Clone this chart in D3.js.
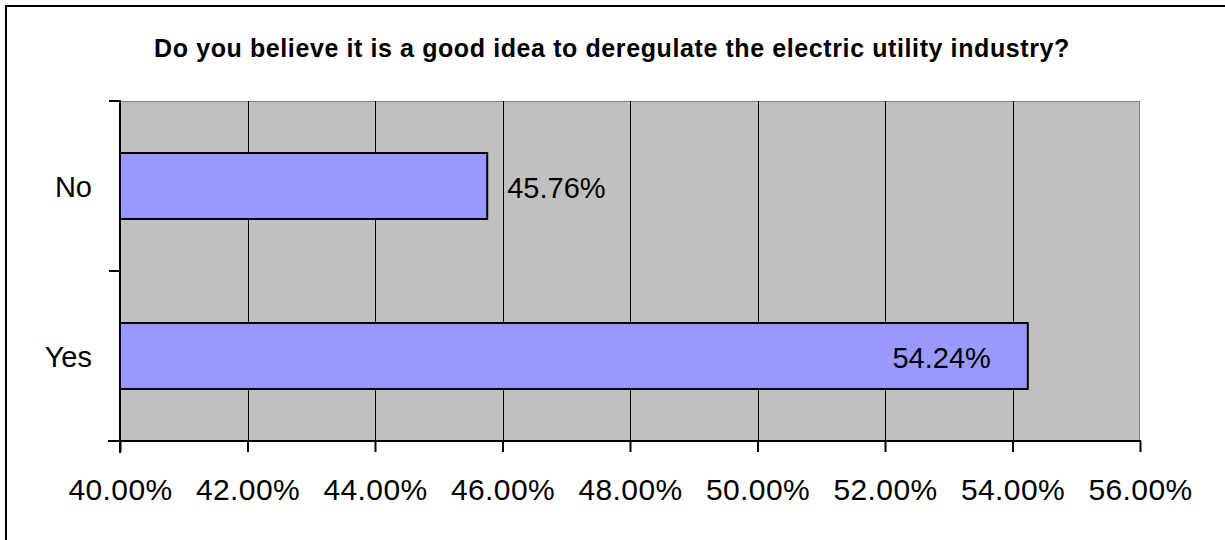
<!DOCTYPE html>
<html>
<head>
<meta charset="utf-8">
<script src="https://cdn.jsdelivr.net/npm/d3@7"></script>
<style>
  html, body { margin: 0; padding: 0; background: #fff; }
  svg { display: block; font-family: "Liberation Sans", Arial, sans-serif; }
</style>
</head>
<body>
<div id="chart"></div>
<script>
const title = 'Do you believe it is a good idea to deregulate the electric utility industry?';
const categories = ['No', 'Yes'];
const values = [45.76, 54.24];
const xTicks = [40, 42, 44, 46, 48, 50, 52, 54, 56];

const width = 1225;
const height = 540;
const plot = { left: 120, top: 101, right: 1140, bottom: 441 };

const svg = d3.select('#chart')
  .append('svg')
  .attr('width', width)
  .attr('height', height);

// outer frame (right/bottom edges fall outside the picture)
svg.append('rect')
  .attr('x', 6).attr('y', 6)
  .attr('width', width + 20).attr('height', height + 20)
  .attr('fill', 'none')
  .attr('stroke', '#000')
  .attr('stroke-width', 2);

svg.append('text')
  .attr('x', 612)
  .attr('y', 57)
  .attr('text-anchor', 'middle')
  .attr('font-size', '25px')
  .attr('font-weight', 'bold')
  .attr('letter-spacing', '0.6px')
  .text(title);

const x = d3.scaleLinear()
  .domain([40, 56])
  .range([plot.left, plot.right]);

const y = d3.scaleBand()
  .domain(categories)
  .range([plot.top, plot.bottom])
  .paddingInner(0.612)
  .paddingOuter(0.306);

// plot background
svg.append('rect')
  .attr('x', plot.left).attr('y', plot.top)
  .attr('width', plot.right - plot.left)
  .attr('height', plot.bottom - plot.top)
  .attr('fill', '#c0c0c0');

// top / right plot border
svg.append('path')
  .attr('d', `M${plot.left},${plot.top + 0.5}H${plot.right - 0.5}V${plot.bottom}`)
  .attr('fill', 'none')
  .attr('stroke', '#808080')
  .attr('stroke-width', 1);

// vertical grid
svg.append('g')
  .selectAll('line')
  .data(xTicks.slice(1, -1))
  .join('line')
    .attr('x1', d => Math.round(x(d)) + 0.5)
    .attr('x2', d => Math.round(x(d)) + 0.5)
    .attr('y1', plot.top)
    .attr('y2', plot.bottom)
    .attr('stroke', '#000')
    .attr('stroke-width', 1);

// bars
svg.append('g')
  .selectAll('rect')
  .data(values)
  .join('rect')
    .attr('x', x(40))
    .attr('y', (d, i) => y(categories[i]))
    .attr('width', d => x(d) - x(40))
    .attr('height', y.bandwidth())
    .attr('fill', '#9999ff')
    .attr('stroke', '#000')
    .attr('stroke-width', 2);

// data labels
svg.append('g')
  .selectAll('text')
  .data(values)
  .join('text')
    .attr('font-size', '29px')
    .attr('y', (d, i) => y(categories[i]) + y.bandwidth() / 2 + 12)
    .attr('x', d => (x(d) + 130 > plot.right ? x(d) - 37 : x(d) + 20))
    .attr('text-anchor', d => (x(d) + 130 > plot.right ? 'end' : 'start'))
    .text(d => `${d.toFixed(2)}%`);

// x axis
const xAxis = d3.axisBottom(x)
  .tickValues(xTicks)
  .tickSize(11)
  .tickPadding(27)
  .tickFormat(d => `${d.toFixed(2)}%`);

const gx = svg.append('g')
  .attr('transform', `translate(0,${plot.bottom})`)
  .call(xAxis);
gx.select('.domain').remove();
gx.selectAll('.tick line').attr('stroke', '#000').attr('stroke-width', 2);
gx.selectAll('.tick text')
  .attr('font-size', '30px')
  .attr('letter-spacing', '0.4px')
  .attr('fill', '#000')
  .attr('font-family', '"Liberation Sans", Arial, sans-serif');

svg.append('line')
  .attr('x1', plot.left - 12).attr('x2', plot.right + 1)
  .attr('y1', plot.bottom).attr('y2', plot.bottom)
  .attr('stroke', '#000')
  .attr('stroke-width', 2);

// y axis: ticks at band boundaries, labels at band centres
const yEdges = [plot.top, (plot.top + plot.bottom) / 2, plot.bottom];

svg.append('g')
  .selectAll('line')
  .data(yEdges)
  .join('line')
    .attr('x1', plot.left - 11)
    .attr('x2', plot.left)
    .attr('y1', d => d)
    .attr('y2', d => d)
    .attr('stroke', '#000')
    .attr('stroke-width', 2);

svg.append('line')
  .attr('x1', plot.left).attr('x2', plot.left)
  .attr('y1', plot.top - 1).attr('y2', plot.bottom + 12)
  .attr('stroke', '#000')
  .attr('stroke-width', 2);

svg.append('g')
  .selectAll('text')
  .data(categories)
  .join('text')
    .attr('x', 92)
    .attr('y', d => y(d) + y.bandwidth() / 2 + 11)
    .attr('text-anchor', 'end')
    .attr('font-size', '29px')
    .text(d => d);
</script>
</body>
</html>
